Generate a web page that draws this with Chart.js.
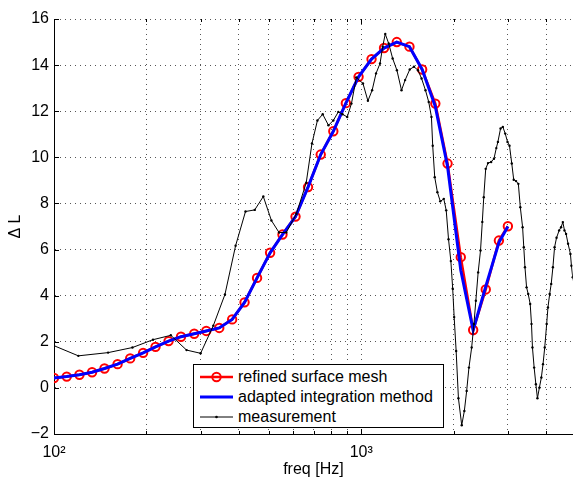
<!DOCTYPE html>
<html>
<head>
<meta charset="utf-8">
<script src="https://cdn.jsdelivr.net/npm/chart.js@4.4.1/dist/chart.umd.min.js"></script>
<style>
  html, body { margin: 0; padding: 0; background: #fff; overflow: hidden; }
  #wrap { position: relative; width: 579px; height: 479px; }
  #legend {
    position: absolute; left: 193px; top: 364px; width: 249px; height: 62px;
    border: 1px solid #000; background: #fff;
    font: 16px "Liberation Sans", Arial, sans-serif; color: #000;
  }
  .row { position: absolute; left: 6px; height: 20px; display: flex; align-items: center; white-space: nowrap; }
  .row svg { width: 33px; height: 20px; margin-right: 5px; }
</style>
</head>
<body>
<div id="wrap">
  <canvas id="chart" width="579" height="479"></canvas>
  <div id="legend">
    <div class="row" style="top:2px">
      <svg viewBox="0 0 33 20"><line x1="0" y1="10" x2="33" y2="10" stroke="#f00" stroke-width="2.5"/><circle cx="16.5" cy="10" r="4.2" fill="none" stroke="#f00" stroke-width="2"/></svg>
      <span>refined surface mesh</span>
    </div>
    <div class="row" style="top:22px">
      <svg viewBox="0 0 33 20"><line x1="0" y1="10" x2="33" y2="10" stroke="#00f" stroke-width="3"/></svg>
      <span>adapted integration method</span>
    </div>
    <div class="row" style="top:42px">
      <svg viewBox="0 0 33 20"><line x1="0" y1="10" x2="33" y2="10" stroke="#000" stroke-width="1"/><circle cx="16.5" cy="10" r="1.3" fill="#000"/></svg>
      <span>measurement</span>
    </div>
  </div>
</div>
<script>
// refined surface mesh / adapted integration method (same frequencies)
const simFreq = [100, 110, 121, 133, 146, 161, 177, 195, 214, 236, 259, 286, 313, 345, 380, 417, 458, 505, 554, 611,
  671, 738, 811, 891, 980, 1080, 1186, 1305, 1435, 1578, 1742, 1909, 2108, 2313, 2542, 2805, 3000];
const refinedVal = [0.43, 0.49, 0.57, 0.68, 0.84, 1.03, 1.28, 1.52, 1.78, 2.03, 2.22, 2.35, 2.47, 2.60, 2.97, 3.71, 4.77, 5.86, 6.65, 7.43,
  8.71, 10.12, 11.13, 12.35, 13.49, 14.26, 14.74, 15.0, 14.80, 13.81, 12.33, 9.73, 5.67, 2.51, 4.27, 6.39, 7.01];
const adaptedVal = [0.43, 0.49, 0.57, 0.68, 0.84, 1.03, 1.28, 1.52, 1.78, 2.03, 2.22, 2.35, 2.47, 2.60, 2.97, 3.71, 4.77, 5.86, 6.65, 7.43,
  8.71, 10.12, 11.13, 12.35, 13.49, 14.26, 14.74, 15.0, 14.80, 13.81, 12.2, 9.6, 5.1, 2.5, 4.4, 6.3, 7.0];

// measurement
const measFreq = [100, 120, 150, 180, 210, 240, 270, 300, 330, 360,
  390, 420, 450, 480, 510, 540, 570, 615, 662, 691,
  720, 749, 782, 811, 842, 869, 900, 929, 964, 1013,
  1051, 1085, 1117, 1151, 1174, 1197, 1228, 1265, 1306, 1352,
  1389, 1438, 1484, 1529, 1571, 1618, 1658, 1692, 1708, 1734,
  1769, 1808, 1856, 1890, 1923, 1957, 1984, 2006, 2036, 2071,
  2123, 2165, 2203, 2241, 2287, 2326, 2360, 2401, 2444, 2477,
  2504, 2541, 2585, 2647, 2703, 2751, 2784, 2840, 2889, 2941,
  2992, 3037, 3089, 3134, 3190, 3245, 3293, 3350, 3380, 3410,
  3451, 3494, 3546, 3581, 3607, 3653, 3700, 3744, 3799, 3856,
  3904, 3954, 4012, 4051, 4103, 4151, 4204, 4257, 4320, 4405,
  4470, 4529, 4585, 4640, 4710, 4794, 4830, 4877, 4960];
const measVal = [1.83, 1.39, 1.53, 1.75, 2.09, 2.28, 1.64, 1.50, 2.7, 4.05,
  6.17, 7.65, 7.72, 8.30, 7.26, 6.74, 6.74, 7.55, 8.9, 10.6,
  11.6, 11.87, 11.39, 11.6, 11.97, 11.87, 11.75, 12.33, 13.47, 13.2,
  12.45, 12.91, 13.64, 14.07, 14.8, 15.35, 14.94, 14.29, 13.78, 12.91,
  13.35, 13.81, 13.93, 13.78, 13.42, 12.91, 12.40, 11.75, 10.5, 9.14,
  8.49, 8.09, 8.2, 7.70, 6.45, 5.5, 4.3, 3.07, 1.6, -0.45,
  -1.62, -1.0, -0.13, 0.88, 1.75, 2.77, 3.78, 5.01, 5.96, 7.2,
  8.27, 9.5, 9.75, 9.8, 9.94, 10.4, 10.67, 11.25, 11.32, 11.03,
  10.67, 10.5, 9.73, 9.03, 8.97, 8.85, 7.84, 6.97, 6.1, 5.23,
  4.36, 4.07, 3.64, 2.77, 1.75, 0.88, 0.16, -0.45, 0.01, 0.45,
  1.03, 1.75, 2.77, 3.49, 4.07, 4.51, 5.23, 6.1, 6.51, 6.83,
  6.97, 7.19, 6.83, 6.68, 6.25, 5.81, 5.3, 4.8, 4.3];

// axes
const xTicks = [100, 200, 300, 400, 500, 600, 700, 800, 900, 1000, 2000, 3000, 4000];
const xLabels = { 100: "10²", 1000: "10³" };
const yMin = -2, yMax = 16, yStep = 2;

const pts = (xs, ys) => xs.map((x, i) => ({ x: x, y: ys[i] }));

Chart.defaults.font.family = '"Liberation Sans", Arial, sans-serif';
Chart.defaults.font.size = 16;
Chart.defaults.color = "#000";

// MATLAB style inner tick marks
const innerTicks = {
  id: "innerTicks",
  afterDraw(chart) {
    const { ctx, chartArea: a, scales: { x, y } } = chart;
    ctx.save();
    ctx.strokeStyle = "#000";
    ctx.lineWidth = 1;
    ctx.beginPath();
    xTicks.forEach((v) => {
      if (v === 100) return;
      const px = Math.round(x.getPixelForValue(v)) + 0.5;
      const len = xLabels[v] ? 5 : 3;
      ctx.moveTo(px, a.bottom); ctx.lineTo(px, a.bottom - len);
      ctx.moveTo(px, a.top); ctx.lineTo(px, a.top + len);
    });
    for (let v = yMin + yStep; v <= yMax; v += yStep) {
      const py = Math.round(y.getPixelForValue(v)) + 0.5;
      ctx.moveTo(a.left, py); ctx.lineTo(a.left + 5, py);
    }
    ctx.stroke();
    ctx.restore();
  }
};

new Chart(document.getElementById("chart"), {
  type: "line",
  data: {
    datasets: [
      {
        label: "refined surface mesh",
        data: pts(simFreq, refinedVal),
        borderColor: "#ff0000",
        borderWidth: 2.5,
        pointRadius: 4.2,
        pointBorderWidth: 2,
        pointBorderColor: "#ff0000",
        pointBackgroundColor: "rgba(0,0,0,0)",
        order: 2,
      },
      {
        label: "adapted integration method",
        data: pts(simFreq, adaptedVal),
        borderColor: "#0000ff",
        borderWidth: 3,
        pointRadius: 0,
        order: 1,
      },
      {
        label: "measurement",
        data: pts(measFreq, measVal),
        borderColor: "#000",
        borderWidth: 1,
        pointRadius: 1.2,
        pointBorderWidth: 0,
        pointBackgroundColor: "#000",
        order: 0,
      },
    ],
  },
  options: {
    responsive: false,
    animation: false,
    layout: { padding: { top: 19, right: 0, bottom: 0, left: 0 } },
    plugins: { legend: { display: false }, tooltip: { enabled: false } },
    scales: {
      x: {
        type: "logarithmic",
        min: 100,
        max: 4880,
        afterBuildTicks: (s) => { s.ticks = xTicks.map((v) => ({ value: v })); },
        afterFit: (s) => { s.height = 45; },
        ticks: {
          autoSkip: false,
          maxRotation: 0,
          padding: 9,
          callback: (v) => xLabels[v] || "",
        },
        grid: { color: "#555", lineWidth: 1, drawTicks: false },
        border: { display: true, color: "#000", width: 1, dash: [1, 4] },
        title: { display: true, text: "freq [Hz]", padding: { top: 0, bottom: 0 } },
      },
      y: {
        min: yMin,
        max: yMax,
        afterFit: (s) => { s.width = 54; },
        ticks: {
          stepSize: yStep,
          padding: 5,
          callback: (v) => String(v).replace("-", "\u2212"),
        },
        grid: { color: "#555", lineWidth: 1, drawTicks: false },
        border: { display: true, color: "#000", width: 1, dash: [1, 4] },
        title: { display: true, text: "Δ L", padding: { top: 6, bottom: 0 } },
      },
    },
  },
  plugins: [innerTicks],
});
</script>
</body>
</html>
